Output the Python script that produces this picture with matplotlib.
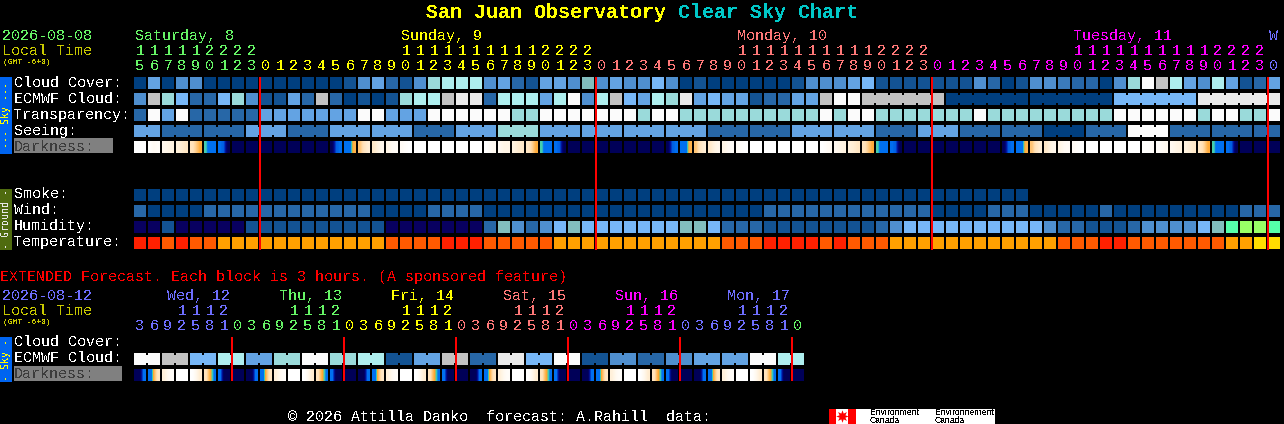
import numpy as np
import matplotlib
matplotlib.use("Agg")
import matplotlib.pyplot as plt
from matplotlib.colors import LinearSegmentedColormap

plt.rcParams['font.family'] = ['Liberation Mono', 'DejaVu Sans Mono']
plt.rcParams['text.antialiased'] = False

# sky colours, 0 = clear/dark blue ... 11 = white, then the humidity extras
palette = ['#003f7f', '#135393', '#2767a7', '#3b7bbb', '#4f8fcf', '#63a3e3',
           '#77b7f7', '#9adada', '#aeeeee', '#c2c2c2', '#eaeaea', '#fbfbfb',
           '#080060', '#82bebe', '#55ffaa', '#99ff66']
temp_colors = ['#ff2000', '#ff5a00', '#ffa000', '#ffdd00']

cloud = [0, 5, 0, 4, 4, 0, 0, 0, 0, 0, 0, 0, 0, 0, 0, 1, 4, 5, 2, 1, 4,
         7, 8, 8, 8, 4, 5, 2, 1, 5, 5, 4, 13,
         4, 5, 4, 4, 6, 4, 0, 1, 0, 0, 0, 0, 0, 0, 1, 4, 4, 4, 5, 6,
         1, 1, 1, 1, 1, 1, 1, 4, 2, 0, 1, 4, 4, 3, 2, 2, 0,
         4, 7, 11, 9, 8, 5, 4, 8, 5, 1, 2, 5]
ecmwf = [4, 9, 7, 6, 2, 2, 6, 7, 4, 1, 1, 5, 2, 9, 2, 0, 1, 0, 1, 7, 8,
         8, 9, 10, 10, 2, 8, 8, 8, 5, 8, 11, 4,
         8, 9, 6, 5, 8, 7, 10, 5, 6, 5, 5, 1, 2, 2, 5, 5, 9, 11, 11,
         9, 9, 9, 9, 9, 9, 0, 0, 0, 0, 0, 0, 0, 0, 0, 0, 0, 0,
         6, 6, 6, 6, 6, 6, 10, 10, 10, 10, 10, 10]
ecmwf_groups = [1] * 52 + [6, 6, 6, 6, 6]
transparency = [2, 11, 5, 11, 2, 2, 2, 2, 2, 5, 5, 5, 5, 5, 5, 5, 11, 11, 5, 5, 5,
                11, 11, 11, 11, 11, 11, 7, 7, 11, 11, 11, 11,
                11, 11, 11, 7, 11, 11, 7, 7, 7, 7, 7, 7, 7, 7, 7, 7, 11, 7, 11, 11,
                7, 7, 7, 7, 7, 7, 7, 11, 7, 7, 7, 7, 7, 7, 7, 7, 7,
                11, 11, 11, 11, 11, 11, 7, 11, 11, 7, 7, 11]
seeing_groups = [2] + [3] * 26 + [2]
seeing_levels = [5, 2, 2, 5, 2, 5, 5, 2, 5, 7, 5, 5, 5, 5, 2, 2, 5, 5, 2, 5, 2, 2, 0, 2, 11, 2, 2, 2]

smoke = [0] * 64
wind = [2, 0, 0, 0, 0, 2, 2, 2, 2, 2, 2, 2, 2, 2, 2, 2, 2, 0, 0, 0, 0,
        2, 2, 2, 2, 0, 0, 0, 0, 0, 0, 0, 0, 0, 0, 0, 0, 0, 0, 0, 0, 0, 0, 0, 0,
        2, 2, 2, 2, 2, 2, 2, 2, 2, 2, 2, 2, 0, 0, 0, 0, 2, 2, 2,
        0, 0, 0, 0, 0, 2, 0, 0, 0, 0, 0, 0, 0, 0, 0, 2, 2, 2]
humidity = [12, 12, 1, 12, 12, 12, 12, 12, 1, 1, 1, 1, 1, 1, 1, 1, 1, 1, 12, 12, 12,
            12, 12, 12, 12, 2, 13, 4, 2, 4, 6, 13, 6, 6, 6, 6, 6, 6, 6, 13, 13, 6, 2, 2, 2,
            1, 1, 1, 1, 1, 1, 1, 1, 2, 4, 6, 6, 6, 6, 6, 6, 6, 6, 6, 6, 4, 2, 2,
            1, 1, 1, 2, 4, 4, 4, 4, 6, 13, 14, 15, 15, 14]
temperature = [0, 0, 1, 0, 1, 1, 2, 2, 2, 2, 2, 2, 2, 2, 2, 2, 2, 2, 1, 1, 1,
               1, 0, 0, 0, 1, 1, 1, 1, 1, 2, 2, 2, 2, 2, 2, 2, 2, 2, 2, 2, 2, 1, 1, 1,
               0, 0, 0, 0, 1, 0, 1, 1, 1, 2, 2, 2, 2, 2, 2, 2, 2, 2, 2, 2, 2, 1, 1, 1,
               0, 0, 1, 1, 1, 1, 1, 1, 1, 2, 2, 3, 3]

# darkness, 0 = daylight ... 1 = full dark, read at left/middle/right of each block
day = (0, 0, 0)
night = (.97, .97, .97)
darkness = [day, (.01, .04, .02), (.06, .08, .1), (.12, .15, .2), (.22, .3, .4),
            (.46, .55, .6), (.7, .72, .98), night, night, night, night, night, night, night,
            (.97, .72, .7), (.6, .52, .38), (.33, .22, .14), (.18, .1, .06), (.08, .04, .03),
            (.03, .01, 0), day, day, day, day, day,
            (0, .03, .05), (.05, .08, .08), (.1, .15, .18), (.2, .28, .4),
            (.46, .55, .6), (.7, .72, .98), night, night, night, night, night, night, night,
            (.97, .72, .7), (.6, .52, .38), (.33, .22, .14), (.18, .1, .06), (.08, .04, .03),
            (.03, .01, 0), day, day, day, day, day,
            (0, .02, .04), (.05, .08, .1), (.12, .15, .2), (.22, .3, .4),
            (.46, .55, .6), (.7, .72, .98), night, night, night, night, night, night, night,
            (.97, .72, .7), (.6, .52, .38), (.33, .22, .14), (.18, .1, .06), (.08, .04, .03),
            (.03, .01, 0), day, day, day, day,
            (.01, .01, .02), (.02, .03, .05), (.05, .08, .1), (.1, .14, .18), (.2, .28, .4),
            (.46, .55, .6), (.7, .72, .98), night, night, night]

hours = [15, 16, 17, 18, 19, 20, 21, 22, 23] + list(range(24)) * 3 + [0]
hour_days = [0] * 9 + [1] * 24 + [2] * 24 + [3] * 24 + [4]
day_names = ['Saturday, 8', 'Sunday, 9', 'Monday, 10', 'Tuesday, 11', 'W']
day_cols = [0, 19, 43, 67, 81]
day_colors = ['#66f566', '#ffff00', '#ff7878', '#ff00ff', '#6e6eff']

# extended forecast
ext_ecmwf = [11, 9, 6, 8, 5, 7, 11, 7, 8, 1, 5, 9, 2, 10, 6, 11, 1, 4, 2, 4, 5, 5, 11, 8]
ext_darkness = [
    (.97, .97, .62), (.6, .38, .2), (.12, .05, .02), day, (0, .05, .15), (.22, .4, .5), (.62, .97, .97), night,
    (.97, .97, .62), (.6, .38, .2), (.12, .05, .02), day, (0, .05, .15), (.22, .4, .5), (.62, .97, .97), night,
    (.97, .97, .62), (.6, .38, .2), (.12, .05, .02), day, (0, .05, .15), (.22, .4, .5), (.62, .97, .97), night,
    (.97, .97, .62), (.6, .38, .2), (.12, .05, .02), day, (0, .05, .15), (.22, .4, .5), (.62, .97, .97), night,
    (.97, .97, .62), (.6, .38, .2), (.12, .05, .02), day, (0, .05, .15), (.22, .4, .5), (.62, .97, .97), night,
    (.97, .97, .62), (.6, .38, .2), (.12, .05, .02), day, (0, .05, .15), (.22, .4, .5), (.62, .97, .97), night]
ext_hours = [3, 6, 9, 12, 15, 18, 21] + [0, 3, 6, 9, 12, 15, 18, 21] * 5 + [0]
ext_hour_days = [0] * 7 + [1] * 8 + [2] * 8 + [3] * 8 + [4] * 8 + [5] * 8 + [1]
ext_names = ['Wed, 12', 'Thu, 13', 'Fri, 14', 'Sat, 15', 'Sun, 16', 'Mon, 17']
ext_x = [167, 279, 391, 503, 615, 727]
ext_colors = ['#6e6eff', '#66f566', '#ffff00', '#ff7878', '#ff00ff', '#6e6eff']

dark_cmap = LinearSegmentedColormap.from_list('dark', [
    (0, '#ffffff'), (.1, '#fff3e0'), (.25, '#ffe0b5'), (.42, '#ffa52a'), (.46, '#40d0b0'),
    (.5, '#0070f0'), (.7, '#0070f0'), (.78, '#0020b0'), (.9, '#000070'), (1, '#000050')])

LEFT = 134
PITCH = 14
BOX = 12

fig = plt.figure(figsize=(12.84, 4.24), dpi=100, facecolor='black')
ax = fig.add_axes([0, 0, 1, 1])
ax.set_facecolor('black')
ax.axis('off')


def draw_row(levels, y, colors=palette, groups=None):
    xs = [LEFT + PITCH * i for i in range(len(levels))]
    cols = [colors[v] for v in levels]
    ax.bar(xs, BOX, width=BOX, bottom=y, align='edge', color=cols, linewidth=0, antialiased=False)
    if groups is None:
        return
    # the little bridges between blocks that belong together
    start = 0
    for g in groups:
        for i in range(start, start + g - 1):
            ax.bar(xs[i] + BOX, 8, width=PITCH - BOX, bottom=y + 2, align='edge',
                   color=cols[i], linewidth=0, antialiased=False)
        start += g


def draw_dark(values, y):
    for i, v in enumerate(values):
        x = LEFT + PITCH * i
        ax.imshow([v], extent=(x, x + BOX, y + BOX, y), cmap=dark_cmap, vmin=0, vmax=1,
                  aspect='auto', interpolation='bilinear', zorder=2)


def draw_redlines(cols, y0, y1):
    for c in cols:
        ax.bar(LEFT + PITCH * c - 1, y1 - y0, width=2, bottom=y0, align='edge',
               color='#ff0000', linewidth=0, antialiased=False, zorder=5)


def label(x, y, s, color='white', size=10.8, **kw):
    ax.text(x, y, s, color=color, fontsize=size, va='baseline', **kw)


def side_label(y, s, color):
    ax.text(6, y, s, color=color, fontsize=7.2, rotation=90, ha='center', va='center',
            family='DejaVu Sans Mono', zorder=3)


# title
label(426, 18, 'San Juan Observatory', '#ffff00', 14.4, fontweight='bold')
label(678, 18, 'Clear Sky Chart', '#00c8c8', 14.4, fontweight='bold')

# header
label(2, 40, '2026-08-08', '#66f566')
label(2, 55, 'Local Time', '#c8c800')
label(3, 64, '(GMT -6+0)', '#c8c800', 5.8)
for name, c, col in zip(day_names, day_cols, day_colors):
    label(LEFT + PITCH * c + 1, 40, name, col)
for i, h in enumerate(hours):
    col = day_colors[hour_days[i]]
    cx = LEFT + PITCH * i + 6
    if h >= 10:
        label(cx, 55, str(h // 10), col, ha='center')
    label(cx, 70, str(h % 10), col, ha='center')

# sky block
ax.bar(0, 77, width=12, bottom=77, align='edge', color='#0064f0', linewidth=0, antialiased=False)
side_label(115, '--- Sky ---', '#ffff00')
for y, s in zip([87, 103, 119, 135], ['Cloud Cover:', 'ECMWF Cloud:', 'Transparency:', 'Seeing:']):
    label(14, y, s)
ax.bar(14, 15, width=99, bottom=138, align='edge', color='#808080', linewidth=0, antialiased=False)
label(14, 151, 'Darkness:', '#3c3c3c')

draw_row(cloud, 77)
draw_row(ecmwf, 93, groups=ecmwf_groups)
draw_row(transparency, 109)
draw_row(np.repeat(seeing_levels, seeing_groups), 125, groups=seeing_groups)
draw_dark(darkness, 141)

# ground block
ax.bar(0, 61, width=12, bottom=189, align='edge', color='#4f6b0f', linewidth=0, antialiased=False)
side_label(219, '- Ground -', '#e8e8e8')
for y, s in zip([198, 214, 230, 246], ['Smoke:', 'Wind:', 'Humidity:', 'Temperature:']):
    label(14, y, s)
draw_row(smoke, 189)
draw_row(wind, 205)
draw_row(humidity, 221)
draw_row(temperature, 237, colors=temp_colors)

draw_redlines([9, 33, 57, 81], 77, 250)

# extended part
label(0, 281, 'EXTENDED Forecast. Each block is 3 hours. (A sponsored feature)', '#ff0000')
label(2, 300, '2026-08-12', '#6e6eff')
label(2, 315, 'Local Time', '#c8c800')
label(3, 324, '(GMT -6+0)', '#c8c800', 5.8)
for name, x, col in zip(ext_names, ext_x, ext_colors):
    label(x, 300, name, col)
for i, h in enumerate(ext_hours):
    col = ext_colors[ext_hour_days[i]]
    cx = LEFT + PITCH * i + 6
    if h >= 10:
        label(cx, 315, str(h // 10), col, ha='center')
    label(cx, 330, str(h % 10), col, ha='center')

ax.bar(0, 45, width=12, bottom=337, align='edge', color='#0064f0', linewidth=0, antialiased=False)
side_label(360, '- Sky -', '#ffff00')
label(14, 346, 'Cloud Cover:')
label(14, 362, 'ECMWF Cloud:')
ax.bar(14, 15, width=108, bottom=366, align='edge', color='#808080', linewidth=0, antialiased=False)
label(14, 378, 'Darkness:', '#3c3c3c')
draw_row(np.repeat(ext_ecmwf, 2), 353, groups=[2] * 24)
draw_dark(ext_darkness, 369)
draw_redlines([7, 15, 23, 31, 39, 47], 337, 381)

# footer
label(288, 421, '\u00a9 2026 Attilla Danko  forecast: A.Rahill  data:')
ax.bar(829, 15, width=166, bottom=409, align='edge', color='white', linewidth=0, antialiased=False)
ax.bar([829, 848], 15, width=[7, 8], bottom=409, align='edge', color='#ff0000', linewidth=0, antialiased=False)
ax.plot([842], [416], marker=(8, 1, 0), color='#ff0000', markersize=9, markeredgewidth=0, zorder=3)
for x, s in zip([870, 935], ['Environment', 'Environnement']):
    ax.text(x, 415, s, color='black', fontsize=6.2, family='Liberation Sans', zorder=3)
    ax.text(x, 423, 'Canada', color='black', fontsize=6.2, family='Liberation Sans', zorder=3)

ax.set_xlim(0, 1284)
ax.set_ylim(424, 0)
fig.savefig('out.png', dpi=100, facecolor='black')
